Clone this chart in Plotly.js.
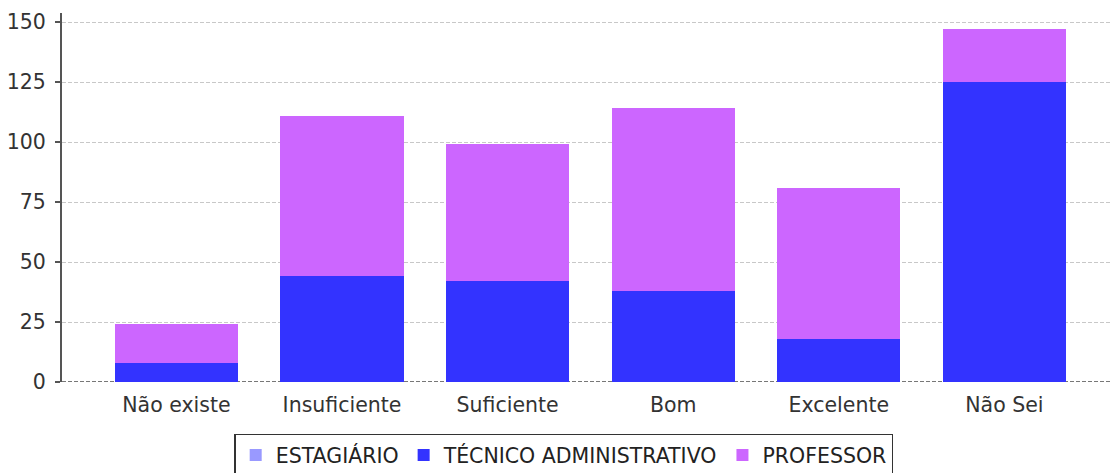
<!DOCTYPE html>
<html>
<head>
<meta charset="utf-8">
<script src="https://cdn.plot.ly/plotly-3.0.1.min.js"></script>
<style>html,body{margin:0;padding:0;background:#fff;}#chart{width:1114px;height:473px;}</style>
</head>
<body>
<div id="chart"></div>
<script>
const categories = ["Não existe", "Insuficiente", "Suficiente", "Bom", "Excelente", "Não Sei"];
const estagiario = [0, 0, 0, 0, 0, 0];
const tecnicoAdministrativo = [8, 44, 42, 38, 18, 125];
const professor = [16, 67, 57, 76, 63, 22];
const yTicks = [0, 25, 50, 75, 100, 125, 150];

const font = {family: "DejaVu Sans, sans-serif", size: 20.5, color: "#333"};

const traces = [
  {type: "bar", name: "ESTAGIÁRIO", x: categories, y: estagiario, marker: {color: "#9999ff"}, width: 0.743},
  {type: "bar", name: "TÉCNICO ADMINISTRATIVO", x: categories, y: tecnicoAdministrativo, marker: {color: "#3333ff"}, width: 0.743},
  {type: "bar", name: "PROFESSOR", x: categories, y: professor, marker: {color: "#cc66ff"}, width: 0.743}
];

const layout = {
  width: 1114, height: 473,
  margin: {l: 62, r: 2, t: 13, b: 90.5, autoexpand: false},
  barmode: "stack",
  paper_bgcolor: "#fff", plot_bgcolor: "#fff",
  font: font,
  showlegend: true,
  hovermode: false,
  legend: {
    orientation: "h", xref: "container", yref: "container",
    x: 0.506, xanchor: "center", y: 0.083, yanchor: "top",
    traceorder: "normal", bordercolor: "#333", borderwidth: 1.5,
    font: {family: "DejaVu Sans, sans-serif", size: 20.5, color: "#222"},
    itemwidth: 30, tracegroupgap: 0
  },
  xaxis: {
    range: [-0.691, 5.65], showgrid: false, zeroline: false, showline: false,
    ticks: "", tickfont: font, fixedrange: true, ticklabelstandoff: 8, automargin: false
  },
  yaxis: {
    range: [0, 153.75], tickvals: yTicks, ticktext: yTicks.map(String),
    showgrid: true, gridcolor: "#c8c8c8", griddash: "4px,2px", gridwidth: 1,
    zeroline: false, showline: true, linecolor: "#555", linewidth: 2,
    ticks: "outside", ticklen: 5, tickcolor: "#555", tickwidth: 2,
    tickfont: font, fixedrange: true, ticklabelstandoff: 5, automargin: false
  },
  shapes: [
    {type: "line", xref: "paper", yref: "y", x0: 0, x1: 1, y0: 0, y1: 0,
     line: {color: "#777", width: 2, dash: "4px,2px"}, layer: "below"}
  ]
};

Plotly.newPlot("chart", traces, layout, {displayModeBar: false, staticPlot: true});
</script>
</body>
</html>
